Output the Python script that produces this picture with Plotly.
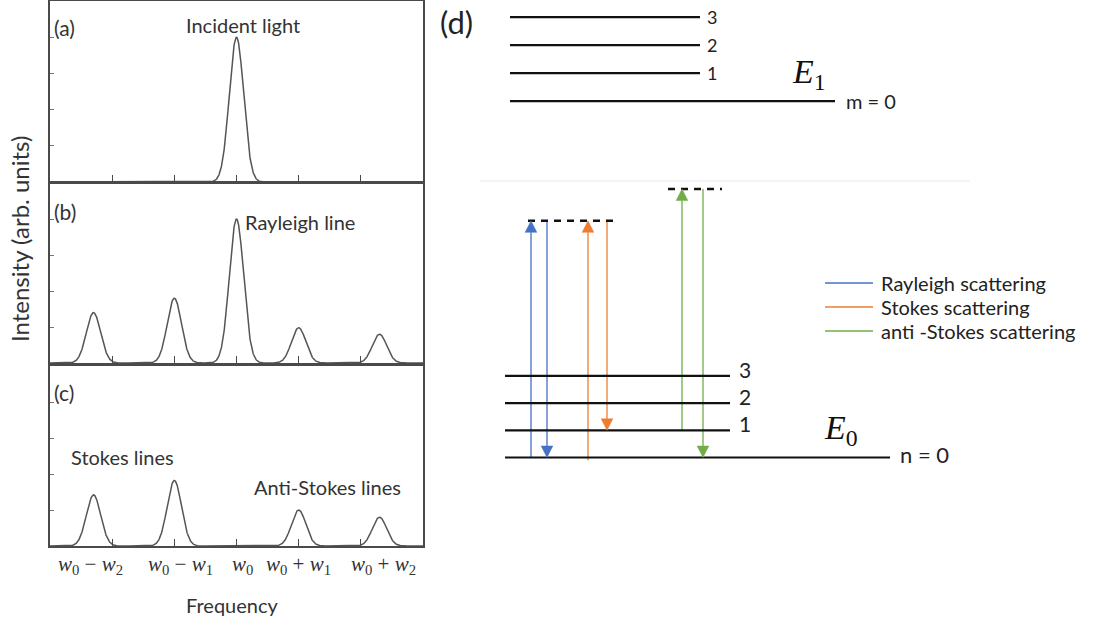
import numpy as np
import plotly.graph_objects as go

W, H = 1097, 623

# ---------------- spectra (a)-(c) ----------------
freq_ticks = [-2, -1, 0, 1, 2]
freq_labels = [
    "<i>w</i><sub>0</sub> − <i>w</i><sub>2</sub>",
    "<i>w</i><sub>0</sub> − <i>w</i><sub>1</sub>",
    "<i>w</i><sub>0</sub>",
    "<i>w</i><sub>0</sub> + <i>w</i><sub>1</sub>",
    "<i>w</i><sub>0</sub> + <i>w</i><sub>2</sub>",
]
freq_label_pos = [-2.35, -0.9, 0.1, 1.0, 2.37]

incident_pos = [0.0]
incident_amp = [1.0]

rayleigh_pos = [-2.3, -1.0, 0.0, 1.0, 2.3]
rayleigh_amp = [0.35, 0.45, 1.0, 0.245, 0.20]

raman_pos = [-2.3, -1.0, 1.0, 2.3]
raman_amp = [0.355, 0.455, 0.25, 0.20]

line_sigma = 0.115
intensity_ticks = [0, 0.25, 0.5, 0.75, 1.0]

# ---------------- energy diagram (d) ----------------
upper_levels = [13.1, 14.13, 15.16, 16.19]   # m = 0, 1, 2, 3
lower_levels = [0.0, 1.0, 2.0, 3.0]          # n = 0, 1, 2, 3
virtual_rs = 8.7                              # Rayleigh / Stokes virtual state
virtual_as = 9.87                             # anti-Stokes virtual state

scatter_names = ["Rayleigh scattering", "Stokes scattering", "anti -Stokes scattering"]
scatter_colors = ["#4472C4", "#ED7D31", "#70AD47"]


def px(x):
    return x / W


def py(y):
    return 1 - y / H


def profile(x, pos, amp):
    y = np.zeros_like(x)
    for p, a in zip(pos, amp):
        y += a * np.exp(-((x - p) ** 2) / (2 * line_sigma ** 2))
    return y


fig = go.Figure()
xg = np.linspace(-3, 3, 1501)
panels = [
    (incident_pos, incident_amp, (1, 182)),
    (rayleigh_pos, rayleigh_amp, (183, 363)),
    (raman_pos, raman_amp, (366, 546)),
]
axis_col = "#4a4a4a"
for i, (pos, amp, (top, bot)) in enumerate(panels, start=1):
    sfx = "" if i == 1 else str(i)
    fig.add_trace(go.Scatter(
        x=xg, y=profile(xg, pos, amp), mode="lines",
        line=dict(color="#555555", width=1.5),
        xaxis="x" + sfx, yaxis="y" + sfx, showlegend=False, hoverinfo="skip",
    ))
    fig.layout["xaxis" + sfx] = dict(
        domain=[px(50), px(423)], range=[-3, 3], anchor="y" + sfx,
        showline=True, mirror=True, linecolor=axis_col, linewidth=1.5,
        ticks="inside", tickvals=freq_ticks, ticklen=7, tickwidth=1.3,
        tickcolor=axis_col, showticklabels=False, showgrid=False, zeroline=False,
    )
    fig.layout["yaxis" + sfx] = dict(
        domain=[py(bot), py(top)], range=[0, 1.25], anchor="x" + sfx,
        showline=True, mirror=True, linecolor=axis_col, linewidth=1.5,
        ticks="inside", tickvals=intensity_ticks, ticklen=4, tickwidth=1,
        tickcolor="#777777", showticklabels=False, showgrid=False, zeroline=False,
    )

# diagram axes: x in drawing units (px), y in vibrational quanta
e_scale = 27.2
e_zero_px = 457.5
fig.layout["xaxis4"] = dict(domain=[0, 1], range=[0, W], anchor="y4", visible=False)
fig.layout["yaxis4"] = dict(domain=[0, 1],
                            range=[(e_zero_px - H) / e_scale, e_zero_px / e_scale],
                            anchor="x4", visible=False)

ann = []
sans = "Lato"
txt = "#333333"

# panel texts
for lab, yy in [("(a)", 27), ("(b)", 211), ("(c)", 392)]:
    ann.append(dict(x=px(52), y=py(yy), text=lab, xanchor="left",
                    font=dict(family=sans, size=21, color=txt)))
ann.append(dict(x=px(243), y=py(25), text="Incident light", font=dict(family=sans, size=20, color=txt)))
ann.append(dict(x=px(300), y=py(222), text="Rayleigh line", font=dict(family=sans, size=20, color=txt)))
ann.append(dict(x=px(122), y=py(457), text="Stokes lines", font=dict(family=sans, size=20, color=txt)))
ann.append(dict(x=px(327), y=py(487), text="Anti-Stokes lines", font=dict(family=sans, size=20, color=txt)))
for xv, t in zip(freq_label_pos, freq_labels):
    ann.append(dict(x=xv, xref="x3", y=py(565), yref="paper", text=t,
                    font=dict(family="Liberation Serif", size=21, color=txt)))
ann.append(dict(x=px(232), y=py(605), text="Frequency", font=dict(family=sans, size=20, color=txt)))
ann.append(dict(x=px(20), y=py(239), text="Intensity (arb. units)", textangle=-90,
                font=dict(family=sans, size=24, color=txt)))

# ---------------- diagram drawing ----------------
shapes = []
lvl = dict(color="#111111", width=2.2)


def hline(x0, x1, e, line):
    shapes.append(dict(type="line", xref="x4", yref="y4", x0=x0, x1=x1, y0=e, y1=e, line=line))


# upper electronic state E1
for m, e in enumerate(upper_levels):
    hline(510, 835 if m == 0 else 700, e, lvl)
    if m > 0:
        ann.append(dict(x=705, y=e, xref="x4", yref="y4", text=str(m), xanchor="left",
                        font=dict(family=sans, size=18, color="#222")))
ann.append(dict(x=844, y=upper_levels[0], xref="x4", yref="y4", text="m = 0", xanchor="left",
                font=dict(family=sans, size=20, color="#222")))
ann.append(dict(x=790, y=upper_levels[0] + 0.15, xref="x4", yref="y4", xanchor="left", yanchor="bottom",
                text="<i>E</i><sub>1</sub>", font=dict(family="Liberation Serif", size=34, color="#111")))

# faint separator between the two manifolds
sep_e = (e_zero_px - 181) / e_scale
shapes.append(dict(type="line", xref="x4", yref="y4", x0=480, x1=970, y0=sep_e, y1=sep_e,
                   line=dict(color="#f1f1f1", width=1.5)))

# lower electronic state E0
for n, e in enumerate(lower_levels):
    hline(505, 890 if n == 0 else 730, e, lvl)
    if n > 0:
        ann.append(dict(x=737, y=e + 0.25, xref="x4", yref="y4", text=str(n), xanchor="left",
                        font=dict(family=sans, size=21, color="#222")))
ann.append(dict(x=898, y=lower_levels[0] + 0.1, xref="x4", yref="y4", text="n = 0", xanchor="left",
                font=dict(family=sans, size=22, color="#222")))
ann.append(dict(x=822, y=lower_levels[0] + 0.15, xref="x4", yref="y4", xanchor="left", yanchor="bottom",
                text="<i>E</i><sub>0</sub>", font=dict(family="Liberation Serif", size=34, color="#111")))

# virtual states
dash = dict(color="#111111", width=2.5, dash="7px,6px")
hline(528, 616, virtual_rs, dash)
hline(668, 722, virtual_as, dash)

# transitions: (x, start, end, colour index)
transitions = [
    (531, lower_levels[0], virtual_rs, 0),
    (547, virtual_rs, lower_levels[0], 0),
    (588, lower_levels[0] - 0.1, virtual_rs, 1),
    (607, virtual_rs, lower_levels[1], 1),
    (682, lower_levels[1], virtual_as, 2),
    (703, virtual_as, lower_levels[0], 2),
]
head_len = 11.5 / e_scale   # arrowhead length in energy units
head_half = 5.8             # arrowhead half width in drawing units
for xv, e0, e1, ci in transitions:
    c = scatter_colors[ci]
    d = 1 if e1 > e0 else -1
    base = e1 - d * head_len
    fig.add_trace(go.Scatter(
        x=[xv, xv], y=[e0, base], mode="lines", line=dict(color=c, width=1.3),
        xaxis="x4", yaxis="y4", showlegend=False, hoverinfo="skip", name=scatter_names[ci],
    ))
    shapes.append(dict(
        type="path", xref="x4", yref="y4",
        path=f"M{xv},{e1} L{xv - head_half},{base} L{xv + head_half},{base} Z",
        fillcolor=c, line=dict(color=c, width=0.5),
    ))

# legend
for k, (name, c) in enumerate(zip(scatter_names, scatter_colors)):
    yy = 283 + 24 * k
    shapes.append(dict(type="line", xref="paper", yref="paper", x0=px(825), x1=px(873),
                       y0=py(yy), y1=py(yy), line=dict(color=c, width=1.5)))
    ann.append(dict(x=px(879), y=py(yy), text=name, xanchor="left",
                    font=dict(family=sans, size=20, color="#222")))

ann.append(dict(x=px(438), y=py(22), text="(d)", xanchor="left",
                font=dict(family=sans, size=31, color="#222")))

for a in ann:
    a.setdefault("xref", "paper")
    a.setdefault("yref", "paper")
    a.setdefault("xanchor", "center")
    a.setdefault("yanchor", "middle")
    a.setdefault("showarrow", False)

fig.update_layout(
    width=W, height=H, margin=dict(l=0, r=0, t=0, b=0),
    paper_bgcolor="white", plot_bgcolor="rgba(0,0,0,0)",
    showlegend=False, annotations=ann, shapes=shapes,
)
fig.write_html("out.html")
